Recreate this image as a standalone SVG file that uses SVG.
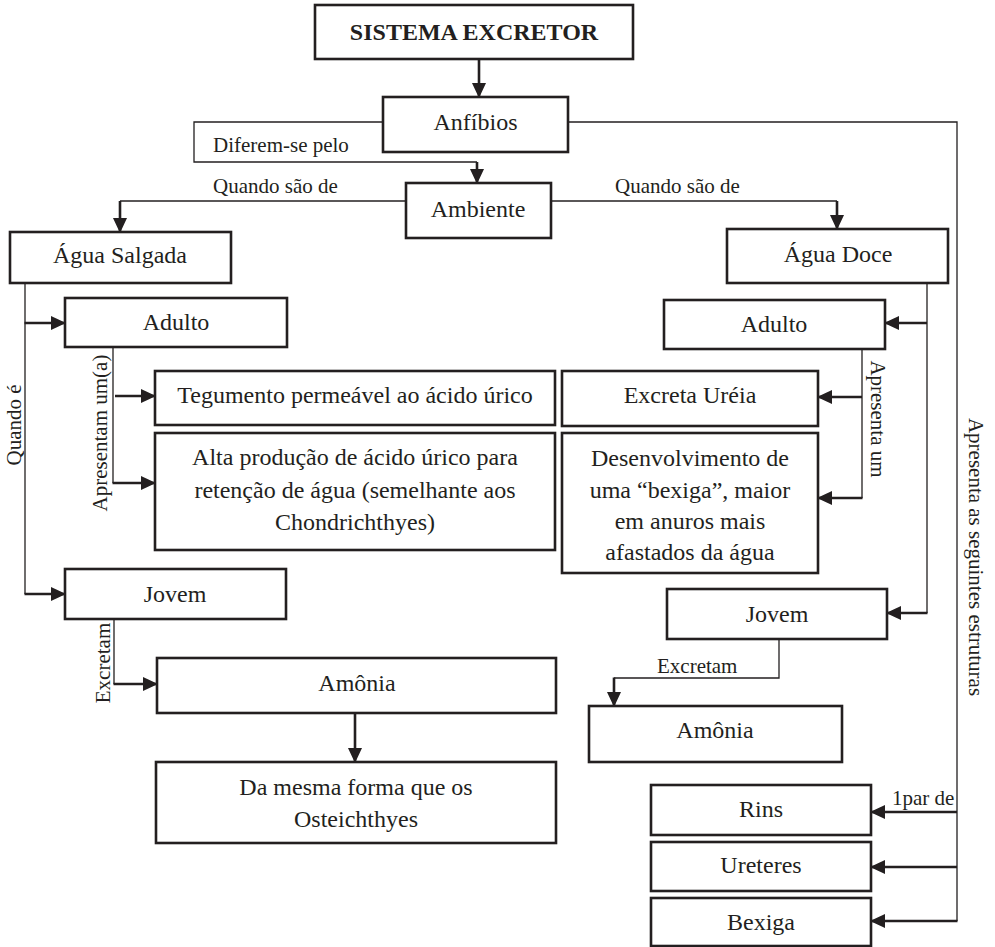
<svg xmlns="http://www.w3.org/2000/svg" width="995" height="947" viewBox="0 0 995 947" font-family="'Liberation Serif','Times New Roman',serif">
<style>
.box{fill:#fff;stroke:#231f20;stroke-width:2.6}
.t{font-family:"Liberation Serif","Times New Roman",serif;font-size:24px;fill:#231f20;text-anchor:middle}
.b{font-weight:bold}
.lbl{font-family:"Liberation Serif","Times New Roman",serif;font-size:21px;fill:#231f20}
.ln{fill:none;stroke:#231f20;stroke-width:1.3}
.ar{fill:none;stroke:#231f20;stroke-width:2.6;marker-end:url(#ah)}
</style>
<defs>
<marker id="ah" markerUnits="userSpaceOnUse" markerWidth="15" markerHeight="14" refX="14" refY="7" orient="auto">
<path d="M0,0 L15,7 L0,14 z" fill="#231f20"/>
</marker>
</defs>
<rect width="995" height="947" fill="#fff"/>
<g id="connectors">
<line class="ar" x1="479" y1="59" x2="479" y2="97"/>
<path class="ln" d="M383,122 H194 V162 H477"/>
<line class="ar" x1="477" y1="162" x2="477" y2="183"/>
<path class="ln" d="M406,201 H120"/>
<line class="ar" x1="120" y1="201" x2="120" y2="232"/>
<path class="ln" d="M551,201 H837"/>
<line class="ar" x1="837" y1="201" x2="837" y2="229"/>
<path class="ln" d="M25,283 V594"/>
<line class="ar" x1="24.5" y1="323" x2="65" y2="323"/>
<line class="ar" x1="24.5" y1="594" x2="65" y2="594"/>
<path class="ln" d="M113,347 V483"/>
<line class="ar" x1="115" y1="396" x2="155" y2="396"/>
<line class="ar" x1="112.5" y1="483" x2="155" y2="483"/>
<path class="ln" d="M114,619 V684"/>
<line class="ar" x1="113.5" y1="684" x2="157" y2="684"/>
<line class="ar" x1="355" y1="713" x2="355" y2="762"/>
<path class="ln" d="M927,283 V613"/>
<line class="ar" x1="927" y1="323" x2="885" y2="323"/>
<line class="ar" x1="927.5" y1="613" x2="887" y2="613"/>
<path class="ln" d="M862,349 V498"/>
<line class="ar" x1="862" y1="397" x2="818" y2="397"/>
<line class="ar" x1="862.5" y1="498" x2="818" y2="498"/>
<path class="ln" d="M779,639 V678 H614"/>
<line class="ar" x1="614" y1="677.5" x2="614" y2="706"/>
<path class="ln" d="M568,122 H957 V921"/>
<line class="ar" x1="957" y1="812" x2="871" y2="812"/>
<line class="ar" x1="957" y1="867" x2="871" y2="867"/>
<line class="ar" x1="957.5" y1="921" x2="871" y2="921"/>
<text class="lbl" x="213" y="152">Diferem-se pelo</text>
<text class="lbl" x="213" y="193">Quando são de</text>
<text class="lbl" x="615" y="193">Quando são de</text>
<text class="lbl" x="21" y="425" text-anchor="middle" transform="rotate(-90 21 425)">Quando é</text>
<text class="lbl" x="107" y="433" text-anchor="middle" transform="rotate(-90 107 433)">Apresentam um(a)</text>
<text class="lbl" x="110" y="663" text-anchor="middle" transform="rotate(-90 110 663)">Excretam</text>
<text class="lbl" x="871" y="419" text-anchor="middle" transform="rotate(90 871 419)">Apresenta um</text>
<text class="lbl" x="969" y="557" text-anchor="middle" transform="rotate(90 969 557)">Apresenta as seguintes estruturas</text>
<text class="lbl" x="657" y="673">Excretam</text>
<text class="lbl" x="892" y="805">1par de</text>
</g>
<g id="title"><rect class="box" x="315" y="5" width="318" height="54"/><text class="t b" x="474" y="40">SISTEMA EXCRETOR</text></g>
<g id="anfibios"><rect class="box" x="383" y="97" width="185" height="55"/><text class="t" x="475.5" y="130">Anfíbios</text></g>
<g id="ambiente"><rect class="box" x="406" y="183" width="145" height="55"/><text class="t" x="478" y="217">Ambiente</text></g>
<g id="aguaSalgada"><rect class="box" x="10" y="232" width="221" height="51"/><text class="t" x="120" y="263">Água Salgada</text></g>
<g id="aguaDoce"><rect class="box" x="727" y="229" width="221" height="54"/><text class="t" x="838" y="262">Água Doce</text></g>
<g id="adultoL"><rect class="box" x="65" y="298" width="222" height="49"/><text class="t" x="176" y="330">Adulto</text></g>
<g id="adultoR"><rect class="box" x="664" y="300" width="221" height="49"/><text class="t" x="774" y="332">Adulto</text></g>
<g id="tegumento"><rect class="box" x="155" y="371" width="400" height="54"/><text class="t" x="355" y="403">Tegumento permeável ao ácido úrico</text></g>
<g id="alta"><rect class="box" x="155" y="433" width="400" height="117"/><text class="t" x="355" y="465">Alta produção de ácido úrico para</text><text class="t" x="355" y="497.5">retenção de água (semelhante aos</text><text class="t" x="355" y="530">Chondrichthyes)</text></g>
<g id="excreta"><rect class="box" x="562" y="371" width="256" height="55"/><text class="t" x="690" y="403">Excreta Uréia</text></g>
<g id="desenv"><rect class="box" x="562" y="433" width="256" height="140"/><text class="t" x="690" y="466">Desenvolvimento de</text><text class="t" x="690" y="498">uma “bexiga”, maior</text><text class="t" x="690" y="529">em anuros mais</text><text class="t" x="690" y="560">afastados da água</text></g>
<g id="jovemL"><rect class="box" x="65" y="569" width="221" height="50"/><text class="t" x="175" y="602">Jovem</text></g>
<g id="jovemR"><rect class="box" x="667" y="589" width="220" height="50"/><text class="t" x="777" y="622">Jovem</text></g>
<g id="amoniaL"><rect class="box" x="157" y="658" width="399" height="55"/><text class="t" x="357" y="691">Amônia</text></g>
<g id="daMesma"><rect class="box" x="156" y="762" width="400" height="81"/><text class="t" x="356" y="795">Da mesma forma que os</text><text class="t" x="356" y="827">Osteichthyes</text></g>
<g id="amoniaR"><rect class="box" x="589" y="706" width="253" height="56"/><text class="t" x="715" y="738">Amônia</text></g>
<g id="rins"><rect class="box" x="651" y="785" width="220" height="50"/><text class="t" x="761" y="817">Rins</text></g>
<g id="ureteres"><rect class="box" x="651" y="842" width="220" height="49"/><text class="t" x="761" y="873">Ureteres</text></g>
<g id="bexiga"><rect class="box" x="651" y="898" width="220" height="48"/><text class="t" x="761" y="930">Bexiga</text></g>
</svg>
